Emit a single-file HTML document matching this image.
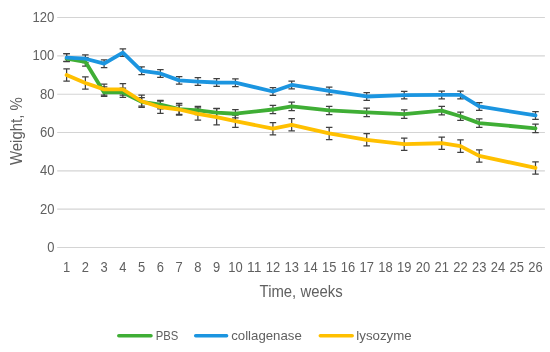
<!DOCTYPE html><html><head><meta charset="utf-8"><title>chart</title><style>html,body{margin:0;padding:0;background:#fff}svg{display:block}text{font-family:"Liberation Sans",sans-serif;fill:#606060}</style></head><body>
<svg width="550" height="352" viewBox="0 0 550 352">
<rect width="550" height="352" fill="#fff"/>
<line x1="57.2" x2="544.9" y1="17.52" y2="17.52" stroke="#D4D4D4" stroke-width="1.1"/>
<text x="54.4" y="22.02" font-size="13.8" text-anchor="end" textLength="21.8" lengthAdjust="spacingAndGlyphs">120</text>
<line x1="57.2" x2="544.9" y1="55.85" y2="55.85" stroke="#D4D4D4" stroke-width="1.1"/>
<text x="54.4" y="60.35" font-size="13.8" text-anchor="end" textLength="21.8" lengthAdjust="spacingAndGlyphs">100</text>
<line x1="57.2" x2="544.9" y1="94.18" y2="94.18" stroke="#D4D4D4" stroke-width="1.1"/>
<text x="54.4" y="98.68" font-size="13.8" text-anchor="end" textLength="14.5" lengthAdjust="spacingAndGlyphs">80</text>
<line x1="57.2" x2="544.9" y1="132.51" y2="132.51" stroke="#D4D4D4" stroke-width="1.1"/>
<text x="54.4" y="137.01" font-size="13.8" text-anchor="end" textLength="14.5" lengthAdjust="spacingAndGlyphs">60</text>
<line x1="57.2" x2="544.9" y1="170.84" y2="170.84" stroke="#D4D4D4" stroke-width="1.1"/>
<text x="54.4" y="175.34" font-size="13.8" text-anchor="end" textLength="14.5" lengthAdjust="spacingAndGlyphs">40</text>
<line x1="57.2" x2="544.9" y1="209.17" y2="209.17" stroke="#D4D4D4" stroke-width="1.1"/>
<text x="54.4" y="213.67" font-size="13.8" text-anchor="end" textLength="14.5" lengthAdjust="spacingAndGlyphs">20</text>
<line x1="57.2" x2="544.9" y1="247.50" y2="247.50" stroke="#D4D4D4" stroke-width="1.1"/>
<text x="54.4" y="252.00" font-size="13.8" text-anchor="end" textLength="7.2" lengthAdjust="spacingAndGlyphs">0</text>
<text x="66.60" y="272.4" font-size="13.8" text-anchor="middle" textLength="7.2" lengthAdjust="spacingAndGlyphs">1</text>
<text x="85.36" y="272.4" font-size="13.8" text-anchor="middle" textLength="7.2" lengthAdjust="spacingAndGlyphs">2</text>
<text x="104.11" y="272.4" font-size="13.8" text-anchor="middle" textLength="7.2" lengthAdjust="spacingAndGlyphs">3</text>
<text x="122.87" y="272.4" font-size="13.8" text-anchor="middle" textLength="7.2" lengthAdjust="spacingAndGlyphs">4</text>
<text x="141.62" y="272.4" font-size="13.8" text-anchor="middle" textLength="7.2" lengthAdjust="spacingAndGlyphs">5</text>
<text x="160.38" y="272.4" font-size="13.8" text-anchor="middle" textLength="7.2" lengthAdjust="spacingAndGlyphs">6</text>
<text x="179.14" y="272.4" font-size="13.8" text-anchor="middle" textLength="7.2" lengthAdjust="spacingAndGlyphs">7</text>
<text x="197.89" y="272.4" font-size="13.8" text-anchor="middle" textLength="7.2" lengthAdjust="spacingAndGlyphs">8</text>
<text x="216.65" y="272.4" font-size="13.8" text-anchor="middle" textLength="7.2" lengthAdjust="spacingAndGlyphs">9</text>
<text x="235.40" y="272.4" font-size="13.8" text-anchor="middle" textLength="14.4" lengthAdjust="spacingAndGlyphs">10</text>
<text x="254.16" y="272.4" font-size="13.8" text-anchor="middle" textLength="14.4" lengthAdjust="spacingAndGlyphs">11</text>
<text x="272.92" y="272.4" font-size="13.8" text-anchor="middle" textLength="14.4" lengthAdjust="spacingAndGlyphs">12</text>
<text x="291.67" y="272.4" font-size="13.8" text-anchor="middle" textLength="14.4" lengthAdjust="spacingAndGlyphs">13</text>
<text x="310.43" y="272.4" font-size="13.8" text-anchor="middle" textLength="14.4" lengthAdjust="spacingAndGlyphs">14</text>
<text x="329.18" y="272.4" font-size="13.8" text-anchor="middle" textLength="14.4" lengthAdjust="spacingAndGlyphs">15</text>
<text x="347.94" y="272.4" font-size="13.8" text-anchor="middle" textLength="14.4" lengthAdjust="spacingAndGlyphs">16</text>
<text x="366.70" y="272.4" font-size="13.8" text-anchor="middle" textLength="14.4" lengthAdjust="spacingAndGlyphs">17</text>
<text x="385.45" y="272.4" font-size="13.8" text-anchor="middle" textLength="14.4" lengthAdjust="spacingAndGlyphs">18</text>
<text x="404.21" y="272.4" font-size="13.8" text-anchor="middle" textLength="14.4" lengthAdjust="spacingAndGlyphs">19</text>
<text x="422.96" y="272.4" font-size="13.8" text-anchor="middle" textLength="14.4" lengthAdjust="spacingAndGlyphs">20</text>
<text x="441.72" y="272.4" font-size="13.8" text-anchor="middle" textLength="14.4" lengthAdjust="spacingAndGlyphs">21</text>
<text x="460.48" y="272.4" font-size="13.8" text-anchor="middle" textLength="14.4" lengthAdjust="spacingAndGlyphs">22</text>
<text x="479.23" y="272.4" font-size="13.8" text-anchor="middle" textLength="14.4" lengthAdjust="spacingAndGlyphs">23</text>
<text x="497.99" y="272.4" font-size="13.8" text-anchor="middle" textLength="14.4" lengthAdjust="spacingAndGlyphs">24</text>
<text x="516.74" y="272.4" font-size="13.8" text-anchor="middle" textLength="14.4" lengthAdjust="spacingAndGlyphs">25</text>
<text x="535.50" y="272.4" font-size="13.8" text-anchor="middle" textLength="14.4" lengthAdjust="spacingAndGlyphs">26</text>
<path d="M66.60 53.60V61.50M63.35 53.60H69.85M63.35 61.50H69.85M85.36 57.57V66.01M82.11 57.57H88.61M82.11 66.01H88.61M104.11 86.80V96.40M100.86 86.80H107.36M100.86 96.40H107.36M122.87 88.20V97.30M119.62 88.20H126.12M119.62 97.30H126.12M141.62 97.63V106.06M138.37 97.63H144.87M138.37 106.06H144.87M160.38 100.31V108.75M157.13 100.31H163.63M157.13 108.75H163.63M179.14 105.20V114.40M175.89 105.20H182.39M175.89 114.40H182.39M197.89 106.25V114.69M194.64 106.25H201.14M194.64 114.69H201.14M216.65 108.36V116.79M213.40 108.36H219.90M213.40 116.79H219.90M235.40 109.51V117.94M232.15 109.51H238.65M232.15 117.94H238.65M272.92 105.30V113.73M269.67 105.30H276.17M269.67 113.73H276.17M291.67 102.23V110.66M288.42 102.23H294.92M288.42 110.66H294.92M329.18 106.25V114.69M325.93 106.25H332.43M325.93 114.69H332.43M366.70 108.17V116.60M363.45 108.17H369.95M363.45 116.60H369.95M404.21 109.90V118.33M400.96 109.90H407.46M400.96 118.33H407.46M441.72 106.45V114.88M438.47 106.45H444.97M438.47 114.88H444.97M460.48 112.00V120.44M457.23 112.00H463.73M457.23 120.44H463.73M479.23 118.90V127.34M475.98 118.90H482.48M475.98 127.34H482.48M535.50 124.08V132.51M532.25 124.08H538.75M532.25 132.51H538.75" stroke="#404040" stroke-width="1.25" fill="none"/>
<path d="M66.60 53.74V61.41M63.35 53.74H69.85M63.35 61.41H69.85M85.36 54.89V62.56M82.11 54.89H88.61M82.11 62.56H88.61M104.11 59.87V67.54M100.86 59.87H107.36M100.86 67.54H107.36M122.87 48.76V56.42M119.62 48.76H126.12M119.62 56.42H126.12M141.62 66.97V74.63M138.37 66.97H144.87M138.37 74.63H144.87M160.38 69.65V77.31M157.13 69.65H163.63M157.13 77.31H163.63M179.14 76.55V84.21M175.89 76.55H182.39M175.89 84.21H182.39M197.89 77.70V85.36M194.64 77.70H201.14M194.64 85.36H201.14M216.65 78.66V86.32M213.40 78.66H219.90M213.40 86.32H219.90M235.40 78.85V86.51M232.15 78.85H238.65M232.15 86.51H238.65M272.92 87.66V95.33M269.67 87.66H276.17M269.67 95.33H276.17M291.67 81.15V88.81M288.42 81.15H294.92M288.42 88.81H294.92M329.18 87.09V94.75M325.93 87.09H332.43M325.93 94.75H332.43M366.70 92.65V100.31M363.45 92.65H369.95M363.45 100.31H369.95M404.21 91.31V98.97M400.96 91.31H407.46M400.96 98.97H407.46M441.72 91.11V98.78M438.47 91.11H444.97M438.47 98.78H444.97M460.48 91.11V98.78M457.23 91.11H463.73M457.23 98.78H463.73M479.23 102.61V110.28M475.98 102.61H482.48M475.98 110.28H482.48M535.50 111.62V119.29M532.25 111.62H538.75M532.25 119.29H538.75" stroke="#404040" stroke-width="1.25" fill="none"/>
<path d="M66.60 68.88V81.15M63.35 68.88H69.85M63.35 81.15H69.85M85.36 76.93V89.20M82.11 76.93H88.61M82.11 89.20H88.61M104.11 84.10V95.00M100.86 84.10H107.36M100.86 95.00H107.36M122.87 83.60V95.00M119.62 83.60H126.12M119.62 95.00H126.12M141.62 95.14V107.40M138.37 95.14H144.87M138.37 107.40H144.87M160.38 101.08V113.34M157.13 101.08H163.63M157.13 113.34H163.63M179.14 103.30V115.00M175.89 103.30H182.39M175.89 115.00H182.39M197.89 107.79V120.05M194.64 107.79H201.14M194.64 120.05H201.14M216.65 108.50V124.90M213.40 108.50H219.90M213.40 124.90H219.90M235.40 115.07V127.34M232.15 115.07H238.65M232.15 127.34H238.65M272.92 122.54V134.81M269.67 122.54H276.17M269.67 134.81H276.17M291.67 118.71V130.98M288.42 118.71H294.92M288.42 130.98H294.92M329.18 127.34V139.60M325.93 127.34H332.43M325.93 139.60H332.43M366.70 133.66V145.93M363.45 133.66H369.95M363.45 145.93H369.95M404.21 138.07V150.33M400.96 138.07H407.46M400.96 150.33H407.46M441.72 137.11V149.38M438.47 137.11H444.97M438.47 149.38H444.97M460.48 139.98V152.25M457.23 139.98H463.73M457.23 152.25H463.73M479.23 149.76V162.02M475.98 149.76H482.48M475.98 162.02H482.48M535.50 161.83V174.10M532.25 161.83H538.75M532.25 174.10H538.75" stroke="#404040" stroke-width="1.25" fill="none"/>
<polyline points="66.60,58.72 85.36,61.79 104.11,92.46 122.87,92.46 141.62,101.85 160.38,104.53 179.14,109.13 197.89,110.47 216.65,112.58 235.40,113.73 272.92,109.51 291.67,106.45 329.18,110.47 366.70,112.39 404.21,114.11 441.72,110.66 460.48,116.22 479.23,123.12 535.50,128.29" fill="none" stroke="#3FAE35" stroke-width="3.8" stroke-linejoin="round" stroke-linecap="round"/>
<polyline points="66.60,57.57 85.36,58.72 104.11,63.71 122.87,52.59 141.62,70.80 160.38,73.48 179.14,80.38 197.89,81.53 216.65,82.49 235.40,82.68 272.92,91.50 291.67,84.98 329.18,90.92 366.70,96.48 404.21,95.14 441.72,94.95 460.48,94.95 479.23,106.45 535.50,115.45" fill="none" stroke="#1B95E0" stroke-width="3.8" stroke-linejoin="round" stroke-linecap="round"/>
<polyline points="66.60,75.02 85.36,83.06 104.11,89.39 122.87,89.39 141.62,101.27 160.38,107.21 179.14,109.51 197.89,113.92 216.65,117.18 235.40,121.20 272.92,128.68 291.67,124.84 329.18,133.47 366.70,139.79 404.21,144.20 441.72,143.24 460.48,146.12 479.23,155.89 535.50,167.97" fill="none" stroke="#FFC000" stroke-width="3.8" stroke-linejoin="round" stroke-linecap="round"/>
<text x="301.1" y="296.8" font-size="15.8" text-anchor="middle" textLength="83" lengthAdjust="spacingAndGlyphs">Time, weeks</text>
<text transform="translate(21.8 131.1) rotate(-90)" font-size="15.8" text-anchor="middle" textLength="68" lengthAdjust="spacingAndGlyphs">Weight, %</text>
<line x1="118.8" x2="151" y1="335.8" y2="335.8" stroke="#3FAE35" stroke-width="3.5" stroke-linecap="round"/>
<text x="155.7" y="339.8" font-size="13.6" textLength="22.6" lengthAdjust="spacingAndGlyphs">PBS</text>
<line x1="195.7" x2="226.6" y1="335.8" y2="335.8" stroke="#1B95E0" stroke-width="3.5" stroke-linecap="round"/>
<text x="231.2" y="339.8" font-size="13.6" textLength="70.6" lengthAdjust="spacingAndGlyphs">collagenase</text>
<line x1="320.3" x2="352.2" y1="335.8" y2="335.8" stroke="#FFC000" stroke-width="3.5" stroke-linecap="round"/>
<text x="356.3" y="339.8" font-size="13.6" textLength="55.4" lengthAdjust="spacingAndGlyphs">lysozyme</text>
</svg></body></html>
